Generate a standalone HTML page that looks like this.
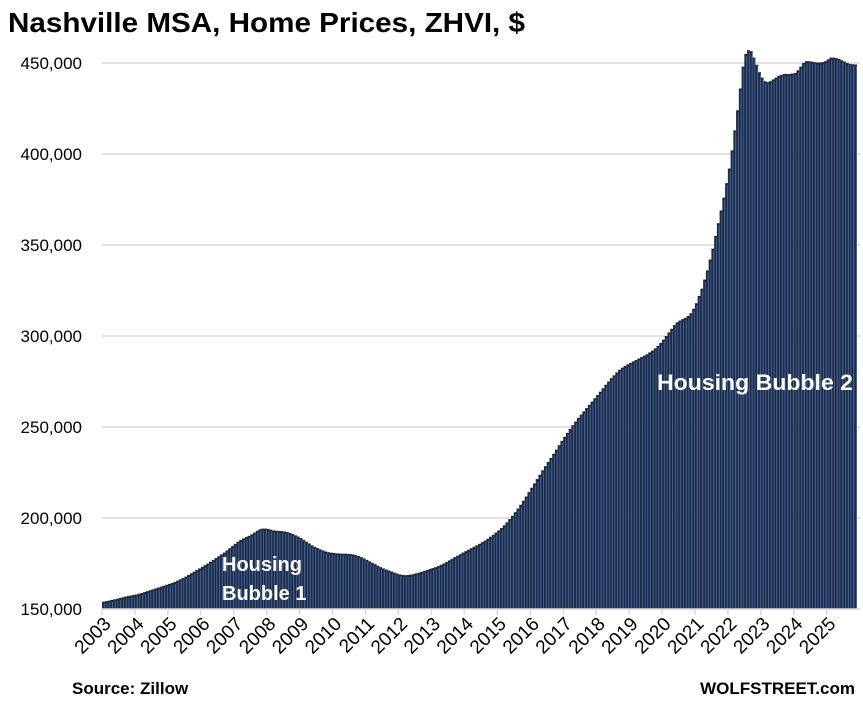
<!DOCTYPE html>
<html><head><meta charset="utf-8"><style>
body{margin:0;background:#fff;}
svg text{font-family:"Liberation Sans",Calibri,sans-serif;}
</style></head><body>
<svg id="chart" width="863" height="702" viewBox="0 0 863 702">
<text x="8" y="32" font-size="28" font-weight="bold" fill="#000" textLength="517" lengthAdjust="spacingAndGlyphs">Nashville MSA, Home Prices, ZHVI, $</text>
<g id="grid"></g><g id="yax"></g><g id="bars"></g><g id="xax"></g>
<text x="222" y="571" font-size="20" font-weight="bold" fill="#fff">Housing</text>
<text x="222" y="600" font-size="20" font-weight="bold" fill="#fff">Bubble 1</text>
<text x="657" y="390" font-size="22" font-weight="bold" fill="#fff" textLength="196" lengthAdjust="spacingAndGlyphs">Housing Bubble 2</text>
<text x="72" y="694" font-size="17" font-weight="bold" fill="#000">Source: Zillow</text>
<text x="855" y="694" font-size="17" font-weight="bold" fill="#000" text-anchor="end">WOLFSTREET.com</text>
</svg>
<script>
const startYear = 2003;
const yTicks = [150000,200000,250000,300000,350000,400000,450000];
const yearLabels = ["2003","2004","2005","2006","2007","2008","2009","2010","2011","2012","2013","2014","2015","2016","2017","2018","2019","2020","2021","2022","2023","2024","2025"];
const values = [
154,154.3,154.6,155,155.3,155.6,156,156.4,156.8,157.1,157.4,157.7,
158,158.4,158.8,159.3,159.8,160.3,160.8,161.3,161.8,162.3,162.8,163.3,
163.8,164.3,164.9,165.6,166.3,167,167.8,168.7,169.6,170.5,171.4,172.3,
173.2,174.1,175,176,177,178,179,180,181,182.2,183.4,184.6,
185.8,187,188,188.8,189.5,190.2,191,192,193,193.8,194.2,194.2,
194,193.6,193.2,193,192.9,192.8,192.6,192.3,191.8,191.2,190.5,189.8,
189,188,187,186,185,184.2,183.5,182.8,182.2,181.6,181.2,181,
180.8,180.6,180.5,180.4,180.4,180.3,180.2,180,179.6,179.1,178.5,177.8,
177,176.2,175.4,174.6,173.8,173,172.3,171.7,171.2,170.6,170,169.5,
169,168.7,168.6,168.7,168.9,169.2,169.6,170,170.5,171,171.5,172,
172.5,173,173.6,174.3,175,175.8,176.7,177.6,178.5,179.3,180.1,181,
181.8,182.6,183.4,184.2,185,185.8,186.7,187.6,188.6,189.7,190.8,192,
193.2,194.5,196,197.6,199.4,201.2,203.2,205.2,207.3,209.5,211.8,214.2,
216.6,219,221.4,223.8,226.2,228.5,230.8,233,235.3,237.6,240,242.4,
244.6,246.8,249,251,253,255,256.8,258.6,260.4,262.2,264,265.8,
267.6,269.4,271.3,273.2,275,276.8,278.4,280,281.4,282.6,283.6,284.4,
285.2,286,286.8,287.6,288.4,289.2,290,291,292,293.2,294.6,296.2,
298,300,302,304,306,307.5,308.5,309.3,310,311,312.5,315,
318,322,326,331,336,342,348,355,362,369,376,384,
392,402,413,424,436,448,455,457,456.5,453,449,445,
442,440,439.5,440,441,442,443,443.5,444,444,444,444.2,
444.5,446,448,450,451,451,450.8,450.5,450.3,450.3,450.5,451,
452,453,453,452.7,452.3,451.5,450.8,450,449.5,449.3,449.2
].map(v=>v*1000);

const NS="http://www.w3.org/2000/svg";
const X0=102, SLOT=2.745, YB=609, YMIN=150000, YMAX=450000, YT=63;
const yS=v=>YB-(v-YMIN)/(YMAX-YMIN)*(YB-YT);
const xS=i=>X0+i*SLOT;
function mk(tag,attrs,parent){const e=document.createElementNS(NS,tag);for(const k in attrs)e.setAttribute(k,attrs[k]);parent.appendChild(e);return e;}
const grid=document.getElementById('grid'),yax=document.getElementById('yax'),bars=document.getElementById('bars'),xax=document.getElementById('xax');
yTicks.forEach(t=>{
  const l=mk('line',{x1:X0,x2:860,y1:yS(t),y2:yS(t),stroke:'#d9d9d9','stroke-width':1.5},grid);
  
  
  const tx=mk('text',{x:82,y:yS(t)+6,'font-size':17,'text-anchor':'end',fill:'#000'},yax);
  tx.textContent=t.toLocaleString('en-US');
  
  
});
values.forEach((v,i)=>{
  const b=mk('rect',{x:xS(i),y:yS(v),width:SLOT+0.1,height:YB-yS(v),fill:'#222a3a'},bars);
  
  
  const s=mk('rect',{x:xS(i)+SLOT-0.9,y:yS(v)+2,width:0.8,height:Math.max(0,YB-yS(v)-2),fill:'#3a6fc8'},bars);
  
  
});
mk('line',{x1:X0,x2:860,y1:YB,y2:YB,stroke:'#d9d9d9','stroke-width':1.5},xax);
yearLabels.forEach((y,k)=>{
  const x=xS(k*12);
  const t=mk('line',{x1:x,x2:x,y1:YB,y2:YB+6,stroke:'#d9d9d9','stroke-width':1.5},xax);
  
  
  const tx=mk('text',{x:x+10,y:YB+16,'font-size':19,'text-anchor':'end',transform:`rotate(-45 ${x+10} ${YB+16})`,fill:'#000'},xax);
  tx.textContent=y;
  
  
});
</script>
</body></html>
